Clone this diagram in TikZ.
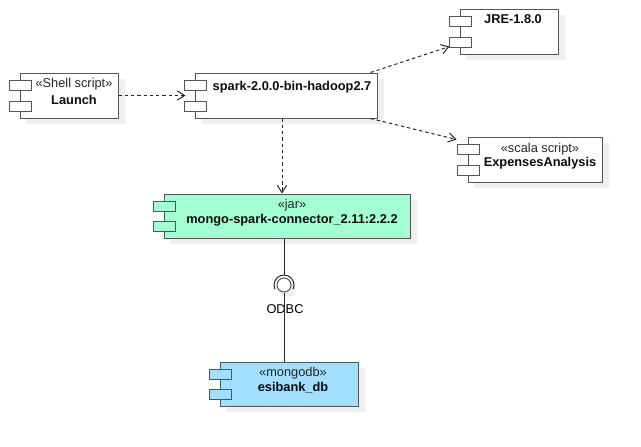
\documentclass[tikz,border=0pt]{standalone}
\usepackage{fontspec}
\setmainfont{Liberation Sans}
\usetikzlibrary{arrows.meta,calc,fit}
\definecolor{jargreen}{HTML}{A3FFD1}
\definecolor{dbblue}{HTML}{A3DEFF}
\definecolor{shadowc}{HTML}{EFEFEF}
\definecolor{edgec}{HTML}{555555}
\tikzset{
  compbox/.style={draw=edgec, line width=0.75pt, inner sep=0pt},
  portbox/.style={draw=edgec, line width=0.75pt},
  lbl/.style={inner sep=0pt, font=\fontsize{9.6pt}{11.5pt}\selectfont, text=black!85},
  lblb/.style={lbl, font=\fontsize{9.6pt}{11.5pt}\selectfont\bfseries, text=black!95},
  dep/.style={draw=black!85, line width=0.75pt, dash pattern=on 2.5pt off 2.2pt,
    -{Straight Barb[length=5.5pt,width=7pt]}},
  solidline/.style={draw=black!85, line width=0.75pt}
}
\newcommand\component[6]{%
  \fill[shadowc] (#2+7,#3+6) rectangle (#4+7,#5+6);
  \node[compbox, fill=#6, fit={(#2,#3) (#4,#5)}] (#1) {};
  \draw[portbox, fill=#6] (#2-11,#3+7) rectangle (#2+11,#3+17);
  \draw[portbox, fill=#6] (#2-11,#5-17) rectangle (#2+11,#5-7);
}
\begin{document}
\begin{tikzpicture}[x=0.75pt,y=-0.75pt]
\useasboundingbox (0,0) rectangle (641,446);

\component{launch}{20}{73}{118}{118}{white}
\component{spark}{195}{73}{377}{118}{white}
\component{jre}{460}{9}{558}{54}{white}
\component{exp}{468}{137}{602}{182}{white}
\component{mongo}{164}{194}{410}{238}{jargreen}
\component{db}{220}{362}{358}{406}{dbblue}

\node[lbl] (launchst) at (74,84) {«Shell script»};
\node[lblb] (launchnm) at (74,100) {Launch};
\node[lblb] (sparknm) at (292,87) {spark-2.0.0-bin-hadoop2.7};
\node[lblb] (jrenm) at (513,19) {JRE-1.8.0};
\node[lbl] (expst) at (540,149) {«scala script»};
\node[lblb] (expnm) at (540,163) {ExpensesAnalysis};
\node[lbl] (mongost) at (292,205) {«jar»};
\node[lblb] (mongonm) at (292,220) {mongo-spark-connector\_2.11:2.2.2};
\node[lbl] (dbst) at (293,373) {«mongodb»};
\node[lblb] (dbnm) at (293,388) {esibank\_db};

% dependencies
\draw[dep] (launch.east) -- ($(spark.west)+(-9,0)$);
\draw[dep] ($(spark.north east)+(-7,0)$) -- ($(jre.south west)+(-10,-8)$);
\draw[dep] ($(spark.south east)+(-7,0)$) -- ($(exp.north west)+(-11,3)$);
\draw[dep] ($(spark.south)+(-4,0)$) -- ($(mongo.north)+(-5,0)$);

% interface (ball and socket)
\node[lbl, text=black] (odbc) at (285,309) {ODBC};
\fill[shadowc] (288,289) circle[radius=6pt];
\node[circle, draw=edgec, fill=white, line width=0.75pt, minimum size=10.5pt, inner sep=0pt] (ball) at (284,285) {};
\draw[solidline] ([shift={(-25:7.5pt)}]ball.center) arc[start angle=-25, end angle=205, radius=7.5pt];
\draw[solidline] (mongo.south -| ball) -- ([yshift=7.5pt]ball.center);
\draw[solidline] (ball.south) -- (db.north -| ball);
\end{tikzpicture}
\end{document}
